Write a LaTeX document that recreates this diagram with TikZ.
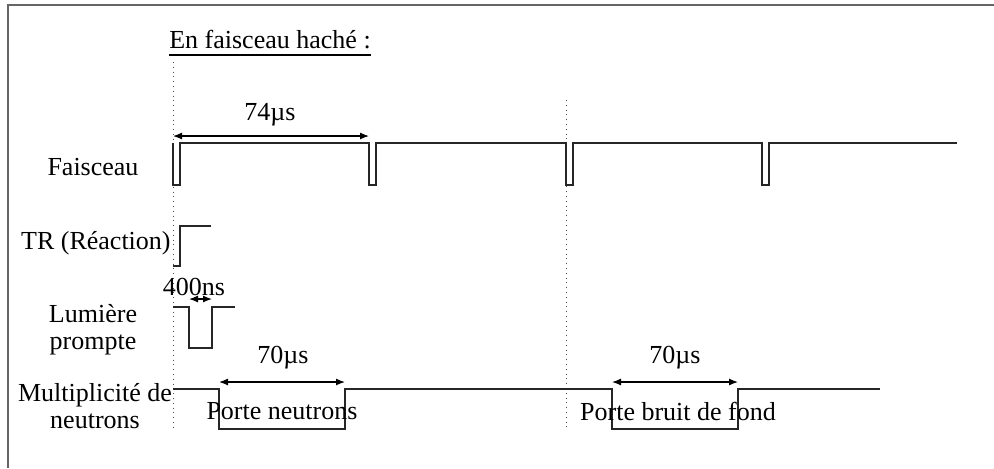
\documentclass[tikz,border=0pt]{standalone}
\usepackage{fontspec}
\setmainfont{Liberation Serif}
\usetikzlibrary{arrows.meta,positioning}

\begin{document}
\begin{tikzpicture}[x=0.5pt,y=-0.5pt,>={Latex[length=4.5pt,width=3.5pt]},
    signal/.style={line width=0.7pt,black!85},
    cote/.style={<->,line width=0.6pt},
    lbl/.style={font=\fontsize{13}{13.5}\selectfont,inner sep=0pt,align=center}]
    \useasboundingbox (0,0) rectangle (994,468);
    % cadre
    \draw[black!60,line width=1pt] (8,468) -- (8,5) -- (994,5);

    % titre et reperes
    \node[lbl] (titre) at (270,40) {En faisceau haché :};
    \draw[line width=1pt] ([yshift=-2.5pt]titre.south west) -- ([yshift=-2.5pt]titre.south east);
    \draw[dotted,black!70] (173,62) -- (173,430);
    \draw[dotted,black!70] (566,100) -- (566,430);

    % noms des signaux
    \node[lbl] (faisceau) at (93,167) {Faisceau};
    \node[lbl,anchor=east] (tr) at (171,243) {TR (Réaction)};
    \node[lbl] (lumiere) at (93,330) {Lumière\\prompte};
    \node[lbl] (multi) at (95,406) {Multiplicité de\\neutrons};

    % faisceau
    \draw[signal] (173,143) -- (173,185) -- (180,185) -- (180,143)
        -- (369,143) -- (369,185) -- (376,185) -- (376,143)
        -- (566,143) -- (566,185) -- (573,185) -- (573,143)
        -- (762,143) -- (762,185) -- (769,185) -- (769,143) -- (957,143);
    \coordinate (f0) at (173,136);
    \coordinate (f1) at (369,136);
    \draw[cote] (f0) -- (f1);
    \node[lbl] (t74) at (270,115) {74µs};

    % TR
    \draw[signal] (173,266) -- (180,266) -- (180,226) -- (211,226);

    % lumiere prompte
    \draw[signal] (173,307) -- (189,307) -- (189,348) -- (212,348) -- (212,307) -- (235,307);
    \coordinate (l0) at (189,299);
    \coordinate (l1) at (212,299);
    \draw[cote] (l0) -- (l1);
    \node[lbl] (t400) at (194,287) {400ns};

    % multiplicite
    \draw[signal] (173,389) -- (219,389) -- (219,429) -- (345,429) -- (345,389)
        -- (612,389) -- (612,429) -- (738,429) -- (738,389) -- (880,389);
    \coordinate (n0) at (219,382);
    \coordinate (n1) at (345,382);
    \draw[cote] (n0) -- (n1);
    \node[lbl] (t70a) at (283,358) {70µs};
    \node[lbl] (porten) at (282,411) {Porte neutrons};
    \coordinate (b0) at (612,382);
    \coordinate (b1) at (738,382);
    \draw[cote] (b0) -- (b1);
    \node[lbl] (t70b) at (675,358) {70µs};
    \node[lbl] (porteb) at (678,411) {Porte bruit de fond};
\end{tikzpicture}
\end{document}
